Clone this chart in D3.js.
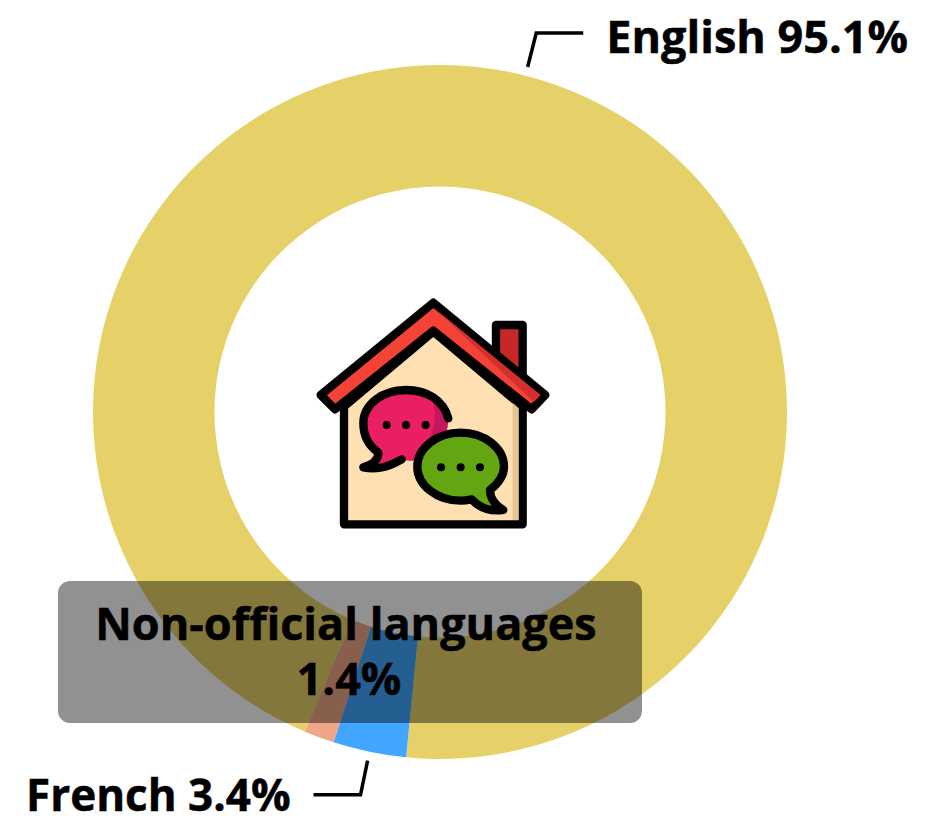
<!DOCTYPE html>
<html><head><meta charset="utf-8">
<script src="https://cdn.jsdelivr.net/npm/d3@7"></script>
<style>
html,body{margin:0;padding:0;background:#fff;overflow:hidden}
text{font-family:"Open Sans","Noto Sans",sans-serif;font-weight:700;fill:#000;stroke:#000;stroke-width:0.5px}
</style></head><body>
<svg id="chart" width="939" height="824"></svg>
<script>
const categories = ["English", "French", "Non-official languages"];
const shares = [95.1, 3.4, 1.4];
const sliceColors = ["#E6D168", "#42A5FF", "#EFA587"];
const startDegrees = 202.9;

const svg = d3.select("#chart");
const cx = 440, cy = 412, outerR = 347, innerR = 225.5;
const g = svg.append("g").attr("transform", `translate(${cx},${cy})`);

const start = startDegrees * Math.PI / 180;
const pie = d3.pie().sort(null).value(d => d)
  .startAngle(start).endAngle(start + 2 * Math.PI);
const arcs = pie(shares);
const arc = d3.arc().innerRadius(innerR).outerRadius(outerR);

g.selectAll("path.slice").data(arcs).join("path")
  .attr("class", "slice").attr("d", arc)
  .attr("fill", (d, i) => sliceColors[i]);

// Leader lines and outer labels
const leaderStart = 356, leaderKnee = 391, leaderRun = 47;
const labelStyle = [{size: 45, dy: 20}, {size: 44, dy: 16}];
labelStyle.forEach((style, i) => {
  const mid = (arcs[i].startAngle + arcs[i].endAngle) / 2;
  const sx = Math.sin(mid), sy = -Math.cos(mid);
  const dir = sx >= 0 ? 1 : -1;
  const kx = sx * leaderKnee, ky = sy * leaderKnee;
  g.append("path")
    .attr("d", d3.line()([[sx * leaderStart, sy * leaderStart], [kx, ky], [kx + dir * leaderRun, ky]]))
    .attr("fill", "none").attr("stroke", "#000").attr("stroke-width", 3.5);
  g.append("text")
    .attr("x", kx + dir * (leaderRun + 23))
    .attr("y", ky + style.dy)
    .attr("text-anchor", dir > 0 ? "start" : "end")
    .attr("font-size", style.size)
    .text(`${categories[i]} ${shares[i]}%`);
});

// House icon
const sw = 25;
const icon = svg.append("g").attr("transform", "translate(300,280) scale(0.3333)")
  .attr("stroke-linejoin", "round").attr("stroke-linecap", "round");
icon.append("path").attr("d", "M588,135H668V300H588Z").attr("fill", "#C62828").attr("stroke", "#000").attr("stroke-width", sw);
icon.append("path").attr("d", "M132,380L400,155L668,380V733H132Z").attr("fill", "#FFE0B2").attr("stroke", "#000").attr("stroke-width", sw);
icon.append("path").attr("d", "M638,368L656,385V720H638Z").attr("fill", "#E3C594");
icon.append("path").attr("d", "M400,68L736,345L695,388L400,152L105,388L62,345Z").attr("fill", "#F44336").attr("stroke", "#000").attr("stroke-width", sw);
icon.append("path").attr("d", "M400,82L722,345L702,366Z").attr("fill", "#D32F2F");
icon.append("path").attr("d", "M445,415C430,360 380,330 318,330C245,330 190,375 190,430C190,470 210,500 235,518C235,540 215,555 190,562C240,572 275,555 305,538C380,560 445,500 445,415Z").attr("fill", "#E91E63");
icon.append("path").attr("d", "M392,350C425,368 440,390 445,415C445,470 400,530 335,540C400,490 420,410 392,350Z").attr("fill", "#C2185B");
icon.append("path").attr("d", "M445,415C430,360 380,330 318,330C245,330 190,375 190,430C190,470 210,500 235,518C235,540 215,555 190,562C240,572 275,555 305,538").attr("fill", "none").attr("stroke", "#000").attr("stroke-width", sw);
icon.append("path").attr("d", "M482,458C410,458 352,505 352,560C352,615 410,662 482,662C495,662 505,660 515,658C540,685 575,695 610,690C585,675 570,655 570,630C595,610 612,588 612,560C612,505 555,458 482,458Z").attr("fill", "#64A611").attr("stroke", "#000").attr("stroke-width", sw);
const dotRows = [{y: 435, xs: [260, 318, 377]}, {y: 562, xs: [423, 482, 540]}];
dotRows.forEach(r => r.xs.forEach(x =>
  icon.append("circle").attr("cx", x).attr("cy", r.y).attr("r", 12).attr("fill", "#000")));

// Tooltip overlay for the active slice
const box = svg.append("g");
box.append("rect").attr("x", 58).attr("y", 581).attr("width", 584).attr("height", 142)
  .attr("rx", 12).attr("fill", "#000").attr("fill-opacity", 0.43);
box.append("text").attr("x", 346).attr("y", 640).attr("text-anchor", "middle")
  .attr("font-size", 45).text(categories[2]);
box.append("text").attr("x", 349).attr("y", 695).attr("text-anchor", "middle")
  .attr("font-size", 45).text(shares[2] + "%");
</script>
</body></html>
